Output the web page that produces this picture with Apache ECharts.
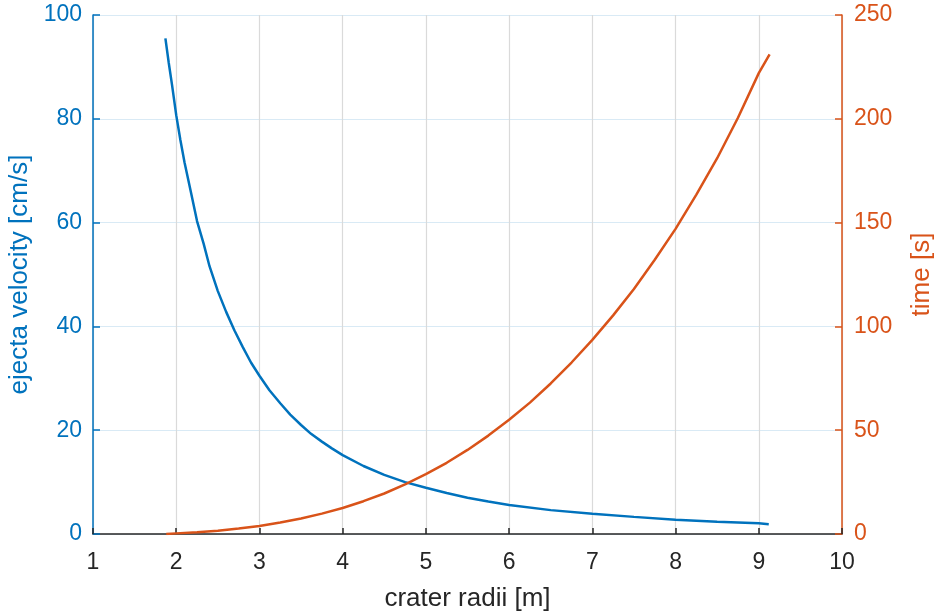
<!DOCTYPE html>
<html>
<head>
<meta charset="utf-8">
<script src="https://cdn.jsdelivr.net/npm/echarts@6/dist/echarts.min.js"></script>
<style>
html,body{margin:0;padding:0;background:#fff;}
#chart{width:936px;height:612px;}
</style>
</head>
<body>
<div id="chart"></div>
<script>
// ejecta velocity curve: crater radii [m] and velocity [cm/s]
const radiiV = [1.87, 1.91, 1.95, 2.0, 2.05, 2.1, 2.18, 2.25, 2.33, 2.4, 2.5, 2.6, 2.7, 2.8, 2.9, 3.0, 3.12, 3.25, 3.37, 3.5, 3.62, 3.75, 3.87, 4.0, 4.25, 4.5, 4.75, 5.0, 5.25, 5.5, 5.75, 6.0, 6.5, 7.0, 7.5, 8.0, 8.5, 9.0, 9.12];
const velocity = [95.5, 90.8, 86.5, 80.7, 75.9, 71.6, 65.6, 60.3, 55.9, 51.6, 46.8, 42.8, 39.2, 36.0, 33.0, 30.5, 27.7, 25.2, 23.0, 21.0, 19.3, 17.8, 16.5, 15.2, 13.1, 11.4, 10.0, 8.9, 7.9, 7.0, 6.25, 5.6, 4.6, 3.9, 3.3, 2.75, 2.35, 2.05, 1.9];
// time curve: crater radii [m] and time [s]
const radiiT = [1.88, 2.0, 2.25, 2.5, 2.75, 3.0, 3.25, 3.5, 3.75, 4.0, 4.25, 4.5, 4.75, 5.0, 5.25, 5.5, 5.75, 6.0, 6.25, 6.5, 6.75, 7.0, 7.25, 7.5, 7.75, 8.0, 8.25, 8.5, 8.75, 9.0, 9.13];
const time = [0, 0.3, 0.9, 1.6, 2.6, 3.9, 5.5, 7.5, 9.8, 12.5, 15.8, 19.5, 23.9, 28.8, 34.3, 40.5, 47.4, 55, 63.3, 72.5, 82.6, 93.5, 105.3, 118, 132.1, 147, 163.5, 181, 200.5, 222, 231];

const xTicks = [1, 2, 3, 4, 5, 6, 7, 8, 9, 10];
const leftTicks = [0, 20, 40, 60, 80, 100];
const rightTicks = [0, 50, 100, 150, 200, 250];

const BLUE = '#0072BD';
const ORANGE = '#D95319';
const DARK = '#262626';
const FONT = 'Liberation Sans';

const chart = echarts.init(document.getElementById('chart'));
chart.setOption({
  backgroundColor: '#ffffff',
  animation: false,
  grid: { left: 93, right: 94, top: 15, bottom: 78, containLabel: false, outerBoundsMode: 'none' },
  xAxis: {
    type: 'value',
    min: xTicks[0], max: xTicks[xTicks.length - 1], interval: 1,
    name: 'crater radii [m]',
    nameLocation: 'middle',
    nameGap: 52,
    nameTextStyle: { color: DARK, fontSize: 26, fontFamily: FONT },
    axisLine: { show: true, onZero: false, lineStyle: { color: DARK, width: 1.5 } },
    axisTick: { show: true, inside: true, length: 6, lineStyle: { color: DARK, width: 1.5 } },
    axisLabel: { color: DARK, fontSize: 23, fontFamily: FONT, margin: 17 },
    splitLine: { show: true, lineStyle: { color: '#dadada', width: 1.2 } }
  },
  yAxis: [
    {
      type: 'value', position: 'left',
      min: leftTicks[0], max: leftTicks[leftTicks.length - 1], interval: 20,
      name: 'ejecta velocity [cm/s]',
      nameLocation: 'middle', nameRotate: 90, nameGap: 48,
      nameTextStyle: { color: BLUE, fontSize: 26, fontFamily: FONT },
      axisLine: { show: true, lineStyle: { color: BLUE, width: 1.5 } },
      axisTick: { show: true, inside: true, length: 7, lineStyle: { color: BLUE, width: 1.5 } },
      axisLabel: { color: BLUE, fontSize: 23, fontFamily: FONT, margin: 11 },
      splitLine: { show: true, lineStyle: { color: '#d9eaf5', width: 1.2 } }
    },
    {
      type: 'value', position: 'right',
      min: rightTicks[0], max: rightTicks[rightTicks.length - 1], interval: 50,
      name: 'time [s]',
      nameLocation: 'middle', nameRotate: 90, nameGap: 67,
      nameTextStyle: { color: ORANGE, fontSize: 26, fontFamily: FONT },
      axisLine: { show: true, lineStyle: { color: ORANGE, width: 1.5 } },
      axisTick: { show: true, inside: true, length: 7, lineStyle: { color: ORANGE, width: 1.5 } },
      axisLabel: { color: ORANGE, fontSize: 23, fontFamily: FONT, margin: 12 },
      splitLine: { show: false }
    }
  ],
  series: [
    {
      type: 'line', yAxisIndex: 0,
      data: radiiV.map((r, i) => [r, velocity[i]]),
      showSymbol: false, smooth: false,
      lineStyle: { color: BLUE, width: 2.5 },
      z: 3
    },
    {
      type: 'line', yAxisIndex: 1,
      data: radiiT.map((r, i) => [r, time[i]]),
      showSymbol: false, smooth: false,
      lineStyle: { color: ORANGE, width: 2.5 },
      z: 3
    }
  ]
});
</script>
</body>
</html>
